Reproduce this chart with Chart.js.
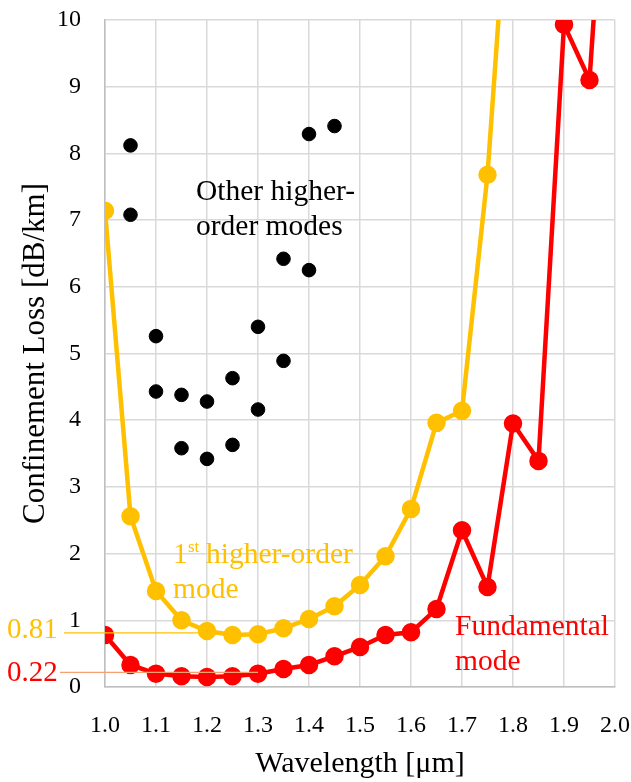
<!DOCTYPE html>
<html>
<head>
<meta charset="utf-8">
<script src="https://cdn.jsdelivr.net/npm/chart.js@4"></script>
<style>
  html, body { margin: 0; padding: 0; background: #fff; }
  #wrap { width: 631px; height: 782px; }
</style>
</head>
<body>
<div id="wrap"><canvas id="lossChart"></canvas></div>
<script>
// wavelengths in µm
const wlFirst = [1.0, 1.05, 1.1, 1.15, 1.2, 1.25, 1.3, 1.35, 1.4, 1.45, 1.5, 1.55, 1.6, 1.65, 1.7, 1.75, 1.8];
const lossFirst = [7.14, 2.56, 1.44, 1.0, 0.84, 0.78, 0.79, 0.88, 1.02, 1.21, 1.53, 1.96, 2.67, 3.96, 4.14, 7.68, 13.1];

const wlFund = [1.0, 1.05, 1.1, 1.15, 1.2, 1.25, 1.3, 1.35, 1.4, 1.45, 1.5, 1.55, 1.6, 1.65, 1.7, 1.75, 1.8, 1.85, 1.9, 1.95, 2.0];
const lossFund = [0.78, 0.33, 0.2, 0.16, 0.15, 0.16, 0.2, 0.27, 0.33, 0.46, 0.6, 0.78, 0.82, 1.17, 2.35, 1.5, 3.95, 3.39, 9.93, 9.1, 14.7];

const wlOther = [1.05, 1.05, 1.4, 1.45, 1.35, 1.4, 1.1, 1.3, 1.35, 1.1, 1.15, 1.2, 1.25, 1.3, 1.15, 1.2, 1.25];
const lossOther = [8.12, 7.08, 8.29, 8.41, 6.42, 6.25, 5.26, 5.4, 4.89, 4.43, 4.38, 4.28, 4.63, 4.16, 3.58, 3.42, 3.63];

// marked minimum values
const markFirst = { wl: 1.2, loss: 0.81 };
const markFund = { wl: 1.3, loss: 0.22 };

const yellow = '#ffc000';
const red = '#ff0000';
const serif = '"Liberation Serif", "DejaVu Serif", serif';

const toPts = (xs, ys) => xs.map((x, i) => ({ x: x, y: ys[i] }));

const labelsPlugin = {
    id: 'labels',
    afterDatasetsDraw(chart) {
        const c = chart.ctx;
        const xs = chart.scales.x, ys = chart.scales.y;
        c.save();
        // reference lines
        c.lineWidth = 1.3;
        c.strokeStyle = yellow;
        let py = ys.getPixelForValue(markFirst.loss);
        c.beginPath(); c.moveTo(64, py); c.lineTo(xs.getPixelForValue(markFirst.wl), py); c.stroke();
        c.strokeStyle = '#f4a070';
        py = ys.getPixelForValue(markFund.loss);
        c.beginPath(); c.moveTo(60, py); c.lineTo(xs.getPixelForValue(markFund.wl), py); c.stroke();

        c.font = '29px ' + serif;
        c.textBaseline = 'middle';
        c.textAlign = 'left';
        c.fillStyle = yellow;
        c.fillText(markFirst.loss.toFixed(2), 7, ys.getPixelForValue(markFirst.loss) - 3);
        c.fillStyle = red;
        c.fillText(markFund.loss.toFixed(2), 7, ys.getPixelForValue(markFund.loss) + 1);

        // series annotations
        c.font = '29.5px ' + serif;
        c.fillStyle = '#000';
        c.fillText('Other higher-', 196, 192);
        c.fillText('order modes', 196, 227);

        c.fillStyle = yellow;
        c.fillText('1', 173, 555);
        c.font = '17px ' + serif;
        c.fillText('st', 188, 548);
        c.font = '29.5px ' + serif;
        c.fillText('higher-order', 206, 555);
        c.fillText('mode', 173, 590);

        c.fillStyle = red;
        c.fillText('Fundamental', 455, 627);
        c.fillText('mode', 455, 662);
        c.restore();
    }
};

new Chart(document.getElementById('lossChart'), {
    type: 'scatter',
    data: {
        datasets: [
            {
                label: 'Other higher-order modes',
                data: toPts(wlOther, lossOther),
                backgroundColor: '#000',
                borderColor: '#000',
                pointRadius: 6.8,
                showLine: false,
            },
            {
                label: 'Fundamental mode',
                data: toPts(wlFund, lossFund),
                borderColor: red,
                backgroundColor: red,
                borderWidth: 4.5,
                pointRadius: 7,
                showLine: true,
            },
            {
                label: '1st higher-order mode',
                data: toPts(wlFirst, lossFirst),
                borderColor: yellow,
                backgroundColor: yellow,
                borderWidth: 4.5,
                pointRadius: 7,
                showLine: true,
            },
        ]
    },
    plugins: [labelsPlugin],
    options: {
        responsive: true,
        maintainAspectRatio: false,
        animation: false,
        layout: {
            padding: { top: 20, right: 16, left: 0, bottom: 0 }
        },
        plugins: {
            legend: { display: false },
            tooltip: { enabled: false },
        },
        scales: {
            x: {
                type: 'linear',
                min: 1.0,
                max: 2.0,
                afterFit(scale) {
                    scale.height = 95;
                    scale.paddingLeft = 0;
                    scale.paddingRight = 0;
                },
                ticks: {
                    stepSize: 0.1,
                    color: '#000',
                    padding: 24,
                    font: { family: serif, size: 24 },
                    callback: v => Number(v).toFixed(1),
                },
                grid: { color: '#d9d9d9', lineWidth: 1.5, drawTicks: false },
                border: { color: '#bfbfbf', width: 1.5 },
                title: {
                    display: true,
                    text: 'Wavelength [μm]',
                    color: '#000',
                    font: { family: serif, size: 30 },
                    padding: { top: 8, bottom: 0 },
                },
            },
            y: {
                min: 0,
                max: 10,
                afterFit(scale) {
                    scale.width = 105;
                    scale.paddingTop = 0;
                    scale.paddingBottom = 0;
                },
                ticks: {
                    stepSize: 1,
                    color: '#000',
                    padding: 24,
                    font: { family: serif, size: 24 },
                },
                grid: { color: '#d9d9d9', lineWidth: 1.5, drawTicks: false },
                border: { color: '#bfbfbf', width: 1.5 },
                title: {
                    display: true,
                    text: 'Confinement Loss [dB/km]',
                    color: '#000',
                    font: { family: serif, size: 31 },
                    padding: { top: 17 },
                },
            },
        },
    },
});
</script>
</body>
</html>
